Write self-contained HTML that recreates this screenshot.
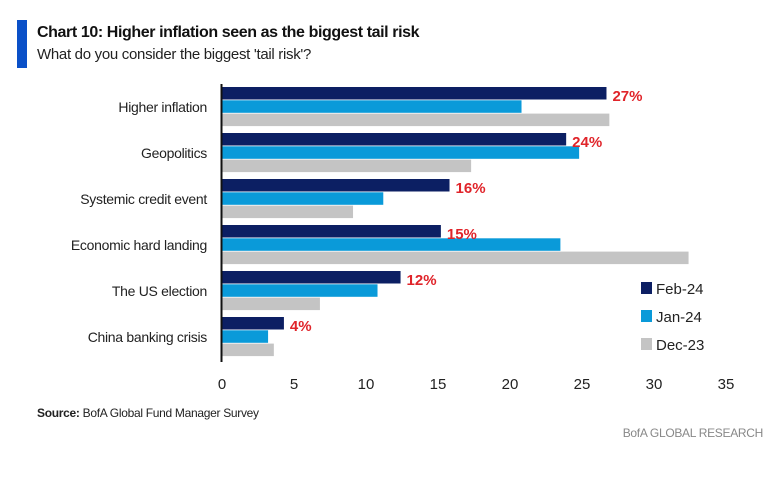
<!DOCTYPE html>
<html><head><meta charset="utf-8"><style>
body{margin:0;width:773px;height:483px;background:#fff;font-family:"Liberation Sans",sans-serif;overflow:hidden;position:relative}
#bar{position:absolute;left:17px;top:20px;width:10px;height:48px;background:#0a50c8}
#t{position:absolute;left:37px;top:24px;font-size:16px;font-weight:bold;color:#111;letter-spacing:-0.4px}
#s{position:absolute;left:37px;top:46px;font-size:15px;color:#222;letter-spacing:-0.3px}
#src{position:absolute;left:37px;top:406px;font-size:12px;color:#222;letter-spacing:-0.3px}
#brand{position:absolute;right:10px;top:426px;font-size:12px;color:#888;letter-spacing:-0.3px}
svg{position:absolute;left:0;top:0}
</style></head><body>
<div id="bar"></div>
<div id="t">Chart 10: Higher inflation seen as the biggest tail risk</div>
<div id="s">What do you consider the biggest 'tail risk'?</div>
<div id="src"><b>Source:</b> BofA Global Fund Manager Survey</div>
<div id="brand">BofA GLOBAL RESEARCH</div>
<svg id="c" width="773" height="483"></svg>
<script>
const categories=["Higher inflation","Geopolitics","Systemic credit event","Economic hard landing","The US election","China banking crisis"];
const feb24=[26.7,23.9,15.8,15.2,12.4,4.3];
const jan24=[20.8,24.8,11.2,23.5,10.8,3.2];
const dec23=[26.9,17.3,9.1,32.4,6.8,3.6];
const febLabels=["27%","24%","16%","15%","12%","4%"];
const ticks=[0,5,10,15,20,25,30,35];
const seriesNames=["Feb-24","Jan-24","Dec-23"];
const colors=["#0c1f63","#0a9ad9","#c4c4c4"];
const NS="http://www.w3.org/2000/svg",svg=document.getElementById('c');
const x=v=>222+v*14.4;
const gy=i=>87+i*46;
function el(t,a,txt){const e=document.createElementNS(NS,t);for(const k in a)e.setAttribute(k,a[k]);if(txt!=null)e.textContent=txt;svg.appendChild(e);return e;}
const series=[feb24,jan24,dec23];
categories.forEach((c,i)=>{
  const l=el('text',{x:207,y:gy(i)+25,'text-anchor':'end','font-size':14,fill:'#222','letter-spacing':'-0.3'},c);
  
  
  series.forEach((s,j)=>{
    const r=el('rect',{x:x(0),y:gy(i)+j*13.3,width:x(s[i])-x(0),height:12.5,fill:colors[j]});
    
    
  });
  const v=el('text',{x:x(feb24[i])+6,y:gy(i)+14,'font-size':15,'font-weight':'bold',fill:'#e0242a'},febLabels[i]);
  
  
});
const ax=el('line',{x1:221.5,y1:84,x2:221.5,y2:362,stroke:'#111','stroke-width':2});


ticks.forEach(t=>{
  const e=el('text',{x:x(t),y:389,'text-anchor':'middle','font-size':15,fill:'#222'},t);
  
  
});
seriesNames.forEach((n,j)=>{
  const y=282+j*28;
  const r=el('rect',{x:641,y:y,width:11,height:12,fill:colors[j]});
  
  
  const t=el('text',{x:656,y:y+12,'font-size':15,fill:'#222'},n);
  
  
});
</script>
</body></html>
